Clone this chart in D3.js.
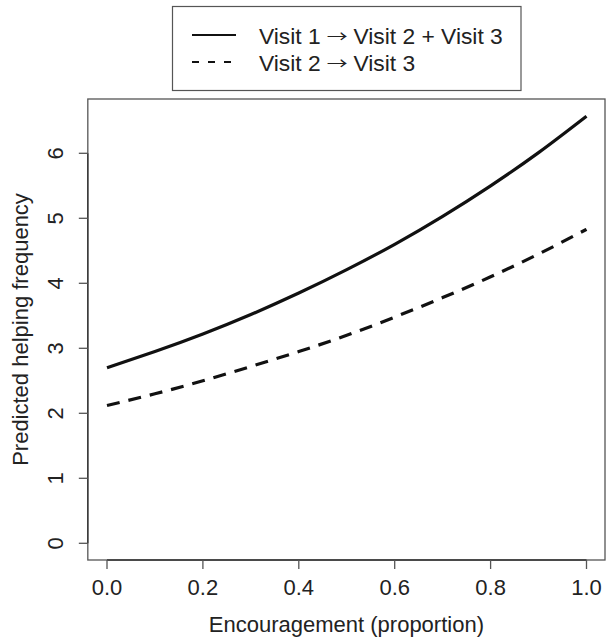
<!DOCTYPE html>
<html>
<head>
<meta charset="utf-8">
<script src="https://cdn.jsdelivr.net/npm/d3@7"></script>
<style>
  html, body { margin: 0; padding: 0; background: #fff; }
  svg { display: block; }
  text { font-family: "Liberation Sans", Arial, sans-serif; fill: #222; }
</style>
</head>
<body>
<svg id="chart" width="606" height="638"></svg>
<script>
// ---- data ----
const encouragement = [0.0, 0.1, 0.2, 0.3, 0.4, 0.5, 0.6, 0.7, 0.8, 0.9, 1.0];
const visit1to23 = [2.70, 2.95, 3.22, 3.52, 3.85, 4.21, 4.60, 5.03, 5.50, 6.01, 6.57];
const visit2to3  = [2.12, 2.30, 2.50, 2.72, 2.95, 3.20, 3.48, 3.78, 4.10, 4.45, 4.83];
const xTicks = [0.0, 0.2, 0.4, 0.6, 0.8, 1.0];
const yTicks = [0, 1, 2, 3, 4, 5, 6];
const legendFrom = ["Visit 1", "Visit 2"];
const legendTo = ["Visit 2 + Visit 3", "Visit 3"];
const arrow = "\u2192";
const xTitle = "Encouragement (proportion)";
const yTitle = "Predicted helping frequency";

// ---- layout ----
const svg = d3.select("#chart");
const x = d3.scaleLinear().domain([0, 1]).range([107, 586.5]);
const y = d3.scaleLinear().domain([0, 6]).range([543.3, 153.3]);
const box = { x0: x(-0.04), x1: 605, y0: 99, y1: 560 };
const fs = 22;

// plot box
svg.append("rect")
  .attr("x", box.x0).attr("y", box.y0)
  .attr("width", box.x1 - box.x0).attr("height", box.y1 - box.y0)
  .attr("fill", "none").attr("stroke", "#555").attr("stroke-width", 1.3);

// x axis
const xAxis = svg.append("g");
xAxis.append("line")
  .attr("x1", x(0)).attr("x2", x(1)).attr("y1", box.y1).attr("y2", box.y1)
  .attr("stroke", "#333").attr("stroke-width", 1.3);
xAxis.selectAll("line.tick").data(xTicks).join("line").attr("class", "tick")
  .attr("x1", d => x(d)).attr("x2", d => x(d))
  .attr("y1", box.y1).attr("y2", box.y1 + 9)
  .attr("stroke", "#555").attr("stroke-width", 1.3);
xAxis.selectAll("text").data(xTicks).join("text")
  .attr("x", d => x(d)).attr("y", 595)
  .attr("text-anchor", "middle").attr("font-size", fs)
  .text(d => d3.format(".1f")(d));

// y axis
const yAxis = svg.append("g");
yAxis.append("line")
  .attr("x1", box.x0).attr("x2", box.x0).attr("y1", y(0)).attr("y2", y(6))
  .attr("stroke", "#333").attr("stroke-width", 1.3);
yAxis.selectAll("line.tick").data(yTicks).join("line").attr("class", "tick")
  .attr("x1", box.x0 - 9).attr("x2", box.x0)
  .attr("y1", d => y(d)).attr("y2", d => y(d))
  .attr("stroke", "#555").attr("stroke-width", 1.3);
yAxis.selectAll("text").data(yTicks).join("text")
  .attr("transform", d => `translate(62.5,${y(d)}) rotate(-90)`)
  .attr("text-anchor", "middle").attr("font-size", fs)
  .text(d => d);

// axis titles
svg.append("text")
  .attr("x", (box.x0 + box.x1) / 2).attr("y", 632)
  .attr("text-anchor", "middle").attr("font-size", fs)
  .text(xTitle);
svg.append("text")
  .attr("transform", `translate(28,${(box.y0 + box.y1) / 2}) rotate(-90)`)
  .attr("text-anchor", "middle").attr("font-size", fs)
  .text(yTitle);

// curves
const pts1 = encouragement.map((e, i) => [e, visit1to23[i]]);
const pts2 = encouragement.map((e, i) => [e, visit2to3[i]]);
const line = d3.line().x(d => x(d[0])).y(d => y(d[1])).curve(d3.curveNatural);
svg.append("path").attr("d", line(pts1))
  .attr("fill", "none").attr("stroke", "#111").attr("stroke-width", 3.2);
svg.append("path").attr("d", line(pts2))
  .attr("fill", "none").attr("stroke", "#111").attr("stroke-width", 3.2)
  .attr("stroke-dasharray", "13,9");

// legend
const lg = svg.append("g");
lg.append("rect")
  .attr("x", 172.5).attr("y", 6.5).attr("width", 348.5).attr("height", 84)
  .attr("fill", "#fff").attr("stroke", "#555").attr("stroke-width", 1.2);
const legendStyles = ["none", "7,9"];
const rowY = [35, 62];
const lfs = 22.8;
const arrowScale = 1.3;
legendFrom.forEach((from, i) => {
  const base = rowY[i] + 8.7;
  lg.append("line")
    .attr("x1", 192).attr("x2", 236).attr("y1", rowY[i]).attr("y2", rowY[i])
    .attr("stroke", "#111").attr("stroke-width", 1.8)
    .attr("stroke-dasharray", legendStyles[i]);
  const t1 = lg.append("text")
    .attr("x", 259).attr("y", base).attr("font-size", lfs).text(from);
  const x1 = 259 + t1.node().getComputedTextLength() + 6;
  const ag = lg.append("g")
    .attr("transform", `translate(${x1},${rowY[i] + 7}) scale(${arrowScale},1)`);
  const ta = ag.append("text")
    .attr("x", 0).attr("y", 0)
    .style("font-family", "'Noto Sans CJK JP', 'DejaVu Sans', sans-serif")
    .attr("font-size", 16)
    .text(arrow);
  const x2 = x1 + ta.node().getComputedTextLength() * arrowScale + 6;
  lg.append("text")
    .attr("x", x2).attr("y", base).attr("font-size", lfs).text(legendTo[i]);
});
</script>
</body>
</html>
